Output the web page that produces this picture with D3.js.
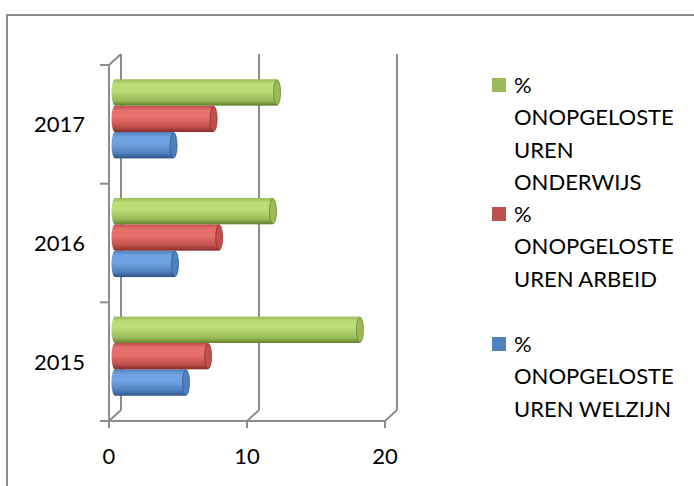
<!DOCTYPE html>
<html>
<head>
<meta charset="utf-8">
<script src="https://cdn.jsdelivr.net/npm/d3@7"></script>
<style>
  body { margin: 0; background: #fff; }
  text { font-family: Lato, "Open Sans", sans-serif; fill: #000; }
</style>
</head>
<body>
<div id="chart"></div>
<script>
// data
const years = ["2015", "2016", "2017"];
const welzijn = [5.4, 4.6, 4.5];
const arbeid = [7.0, 7.8, 7.4];
const onderwijs = [18.0, 11.7, 12.0];
const seriesNames = ["% ONOPGELOSTE UREN WELZIJN", "% ONOPGELOSTE UREN ARBEID", "% ONOPGELOSTE UREN ONDERWIJS"];
const xTicks = [0, 10, 20];

const series = [
  { key: "welzijn", values: welzijn, base: "#4F81BD", light: "#6fa2e2", dark: "#2d5488", name: seriesNames[0] },
  { key: "arbeid", values: arbeid, base: "#C0504D", light: "#e7706c", dark: "#8a2d2a", name: seriesNames[1] },
  { key: "onderwijs", values: onderwijs, base: "#9BBB59", light: "#bcdc78", dark: "#637f2c", name: seriesNames[2] }
];

const width = 694, height = 486;
const depthX = 12, depthY = -11;

const svg = d3.select("#chart").append("svg")
  .attr("width", width)
  .attr("height", height);

// gradients for the cylinders
const defs = svg.append("defs");
series.forEach(s => {
  const g = defs.append("linearGradient")
    .attr("id", "grad-" + s.key)
    .attr("x1", 0).attr("y1", 0).attr("x2", 0).attr("y2", 1);
  g.append("stop").attr("offset", "0%").attr("stop-color", s.base);
  g.append("stop").attr("offset", "18%").attr("stop-color", s.light);
  g.append("stop").attr("offset", "45%").attr("stop-color", s.light);
  g.append("stop").attr("offset", "80%").attr("stop-color", s.base);
  g.append("stop").attr("offset", "100%").attr("stop-color", s.dark);
});

// chart frame
svg.append("rect")
  .attr("x", 7).attr("y", 15)
  .attr("width", 800).attr("height", 600)
  .attr("fill", "none")
  .attr("stroke", "#8c8c8c")
  .attr("stroke-width", 2);

const x = d3.scaleLinear().domain([0, 20]).range([109, 385]);
const y = d3.scaleBand().domain(years.slice().reverse()).range([65, 421]);
const yInner = d3.scaleBand()
  .domain(["onderwijs", "arbeid", "welzijn"])
  .range([0, y.bandwidth()])
  .paddingOuter(0.75);

const axisColor = "#8c8c8c";
const yTop = 65, yBottom = 421;

// back wall gridlines
svg.selectAll(".grid")
  .data(xTicks)
  .enter().append("line")
  .attr("x1", d => x(d) + depthX).attr("x2", d => x(d) + depthX)
  .attr("y1", yTop + depthY).attr("y2", yBottom + depthY)
  .attr("stroke", axisColor).attr("stroke-width", 2);

// floor diagonals
svg.selectAll(".floor")
  .data(xTicks)
  .enter().append("line")
  .attr("x1", d => x(d)).attr("x2", d => x(d) + depthX)
  .attr("y1", yBottom).attr("y2", yBottom + depthY)
  .attr("stroke", axisColor).attr("stroke-width", 2);

// side wall top diagonal
svg.append("line")
  .attr("x1", x(0)).attr("x2", x(0) + depthX)
  .attr("y1", yTop).attr("y2", yTop + depthY)
  .attr("stroke", axisColor).attr("stroke-width", 2);

// front axes
svg.append("line")
  .attr("x1", x(0)).attr("x2", x(0))
  .attr("y1", yTop).attr("y2", yBottom)
  .attr("stroke", axisColor).attr("stroke-width", 2);
svg.append("line")
  .attr("x1", x(0) - 9).attr("x2", x(20))
  .attr("y1", yBottom).attr("y2", yBottom)
  .attr("stroke", axisColor).attr("stroke-width", 2);

// category ticks
const catTicks = years.map(d => y(d)).concat([yBottom]);
svg.selectAll(".ctick")
  .data(catTicks)
  .enter().append("line")
  .attr("x1", x(0) - 9).attr("x2", x(0))
  .attr("y1", d => d).attr("y2", d => d)
  .attr("stroke", axisColor).attr("stroke-width", 2);

// value ticks
svg.selectAll(".vtick")
  .data(xTicks)
  .enter().append("line")
  .attr("x1", d => x(d)).attr("x2", d => x(d))
  .attr("y1", yBottom).attr("y2", yBottom + 7)
  .attr("stroke", axisColor).attr("stroke-width", 2);

// cylinders
const ox = depthX / 2, oy = depthY / 2;
const capRx = 3.5;
series.forEach(s => {
  const g = svg.append("g");
  years.forEach((yr, i) => {
    const v = s.values[i];
    const top = y(yr) + yInner(s.key) + oy;
    const h = yInner.bandwidth();
    const x0 = x(0) + ox, x1 = x(v) + ox - capRx;
    g.append("ellipse")
      .attr("cx", x0).attr("cy", top + h / 2)
      .attr("rx", capRx).attr("ry", h / 2)
      .attr("fill", `url(#grad-${s.key})`);
    g.append("rect")
      .attr("x", x0).attr("y", top)
      .attr("width", x1 - x0).attr("height", h)
      .attr("fill", `url(#grad-${s.key})`);
    g.append("ellipse")
      .attr("cx", x1).attr("cy", top + h / 2)
      .attr("rx", capRx).attr("ry", h / 2 - 0.5)
      .attr("fill", s.base)
      .attr("stroke", s.dark).attr("stroke-width", 1).attr("stroke-opacity", 0.7);
  });
});

// category labels
svg.selectAll(".ylabel")
  .data(years)
  .enter().append("text")
  .attr("x", 85)
  .attr("y", d => y(d) + y.bandwidth() / 2 + 8)
  .attr("text-anchor", "end")
  .style("font-size", "22px")
  .text(d => d);

// value labels
svg.selectAll(".xlabel")
  .data(xTicks)
  .enter().append("text")
  .attr("x", d => x(d))
  .attr("y", 464)
  .attr("text-anchor", "middle")
  .style("font-size", "22px")
  .text(d => d);

// legend
const legendLines = [
  { s: series[2], lines: ["%", "ONOPGELOSTE", "UREN", "ONDERWIJS"], y: 85 },
  { s: series[1], lines: ["%", "ONOPGELOSTE", "UREN ARBEID"], y: 214 },
  { s: series[0], lines: ["%", "ONOPGELOSTE", "UREN WELZIJN"], y: 344 }
];
const lineH = 32.4;
legendLines.forEach(item => {
  svg.append("rect")
    .attr("x", 492).attr("y", item.y - 7)
    .attr("width", 14).attr("height", 14)
    .attr("fill", item.s.base);
  item.lines.forEach((t, j) => {
    svg.append("text")
      .attr("x", 514)
      .attr("y", item.y + j * lineH + 8)
      .style("font-size", "22px")
      .text(t);
  });
});
</script>
</body>
</html>
